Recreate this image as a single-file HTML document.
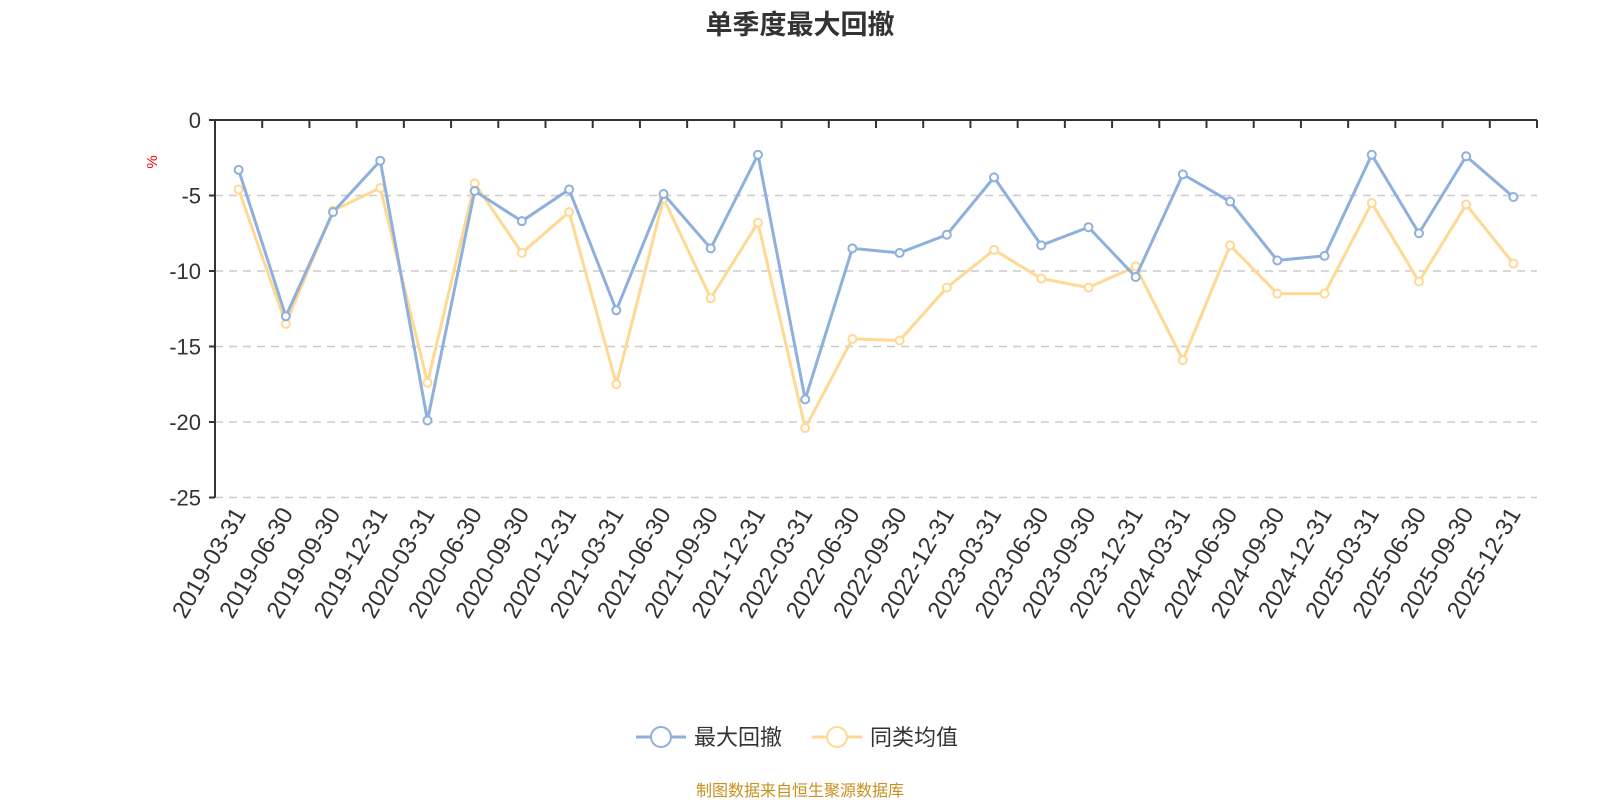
<!DOCTYPE html><html><head><meta charset="utf-8"><style>body{margin:0;background:#fff}svg{display:block}text{font-family:"Liberation Sans","Noto Sans CJK SC",sans-serif}</style></head><body>
<svg id="s" width="1600" height="800" xmlns="http://www.w3.org/2000/svg">
<text x="800" y="34" text-anchor="middle" font-size="27" font-weight="bold" fill="#333">单季度最大回撤</text>
<text x="157" y="162" font-size="15" fill="red" transform="rotate(-90 157 162)" text-anchor="middle">%</text>
<g id="g"></g>
<g transform="translate(636,737)"><line x1="0" y1="0" x2="50" y2="0" stroke="#8eb0dc" stroke-width="3"/><circle cx="25" cy="0" r="10" fill="#fff" stroke="#8eb0dc" stroke-width="2"/><text x="58" y="8" font-size="22" fill="#333">最大回撤</text></g>
<g transform="translate(812,737)"><line x1="0" y1="0" x2="50" y2="0" stroke="#ffd993" stroke-width="3"/><circle cx="25" cy="0" r="10" fill="#fff" stroke="#ffd993" stroke-width="2"/><text x="58" y="8" font-size="22" fill="#333">同类均值</text></g>
<text x="800" y="796" text-anchor="middle" font-size="16" fill="#c8901e">制图数据来自恒生聚源数据库</text>
</svg>
<script>
var g=document.getElementById('g'),h='';
var x0=215,x1=1537,y0=120,k=15.1,n=28,bw=(x1-x0)/n;
var B=[-3.3,-13,-6.1,-2.7,-19.9,-4.7,-6.7,-4.6,-12.6,-4.9,-8.5,-2.3,-18.5,-8.5,-8.8,-7.6,-3.8,-8.3,-7.1,-10.4,-3.6,-5.4,-9.3,-9.0,-2.3,-7.5,-2.4,-5.1];
var Y=[-4.6,-13.5,-6,-4.5,-17.4,-4.2,-8.8,-6.1,-17.5,-5.2,-11.8,-6.8,-20.4,-14.5,-14.6,-11.1,-8.6,-10.5,-11.1,-9.7,-15.9,-8.3,-11.5,-11.5,-5.5,-10.7,-5.6,-9.5];
var L=[];for(var yr=2019;yr<=2025;yr++)['03-31','06-30','09-30','12-31'].forEach(function(d){L.push(yr+'-'+d)});
for(var i=1;i<=5;i++){var y=y0+i*5*k;h+='<line x1="'+x0+'" x2="'+x1+'" y1="'+y+'" y2="'+y+'" stroke="#ccc" stroke-width="1.5" stroke-dasharray="8,6"/>';}
for(var i=0;i<=5;i++){var y=y0+i*5*k;h+='<line x1="'+(x0-6)+'" x2="'+x0+'" y1="'+y+'" y2="'+y+'" stroke="#333" stroke-width="2"/><text x="'+(x0-14)+'" y="'+(y+8)+'" text-anchor="end" font-size="22" fill="#333">'+(i?'-'+i*5:'0')+'</text>';}
h+='<line x1="'+x0+'" x2="'+x0+'" y1="'+y0+'" y2="'+(y0+25*k)+'" stroke="#333" stroke-width="2"/><line x1="'+x0+'" x2="'+x1+'" y1="'+y0+'" y2="'+y0+'" stroke="#333" stroke-width="2"/>';
for(var i=0;i<=n;i++){var x=x0+i*bw;h+='<line x1="'+x+'" x2="'+x+'" y1="'+y0+'" y2="'+(y0+8)+'" stroke="#333" stroke-width="2"/>';}
for(var i=0;i<n;i++){var x=x0+(i+0.5)*bw,y=y0+25*k+16;h+='<text x="'+(x+8)+'" y="'+y+'" text-anchor="end" font-size="24" fill="#333" transform="rotate(-60 '+(x+8)+' '+y+')">'+L[i]+'</text>';}
function ser(D,c){var p=D.map(function(v,i){return (x0+(i+0.5)*bw)+','+(y0-v*k)}).join(' ');var s='<polyline points="'+p+'" fill="none" stroke="'+c+'" stroke-width="3"/>';D.forEach(function(v,i){s+='<circle cx="'+(x0+(i+0.5)*bw)+'" cy="'+(y0-v*k)+'" r="4" fill="#fff" stroke="'+c+'" stroke-width="2"/>'});return s;}
h+=ser(Y,'#ffd993')+ser(B,'#8eb0dc');
g.innerHTML=h;
</script></body></html>
